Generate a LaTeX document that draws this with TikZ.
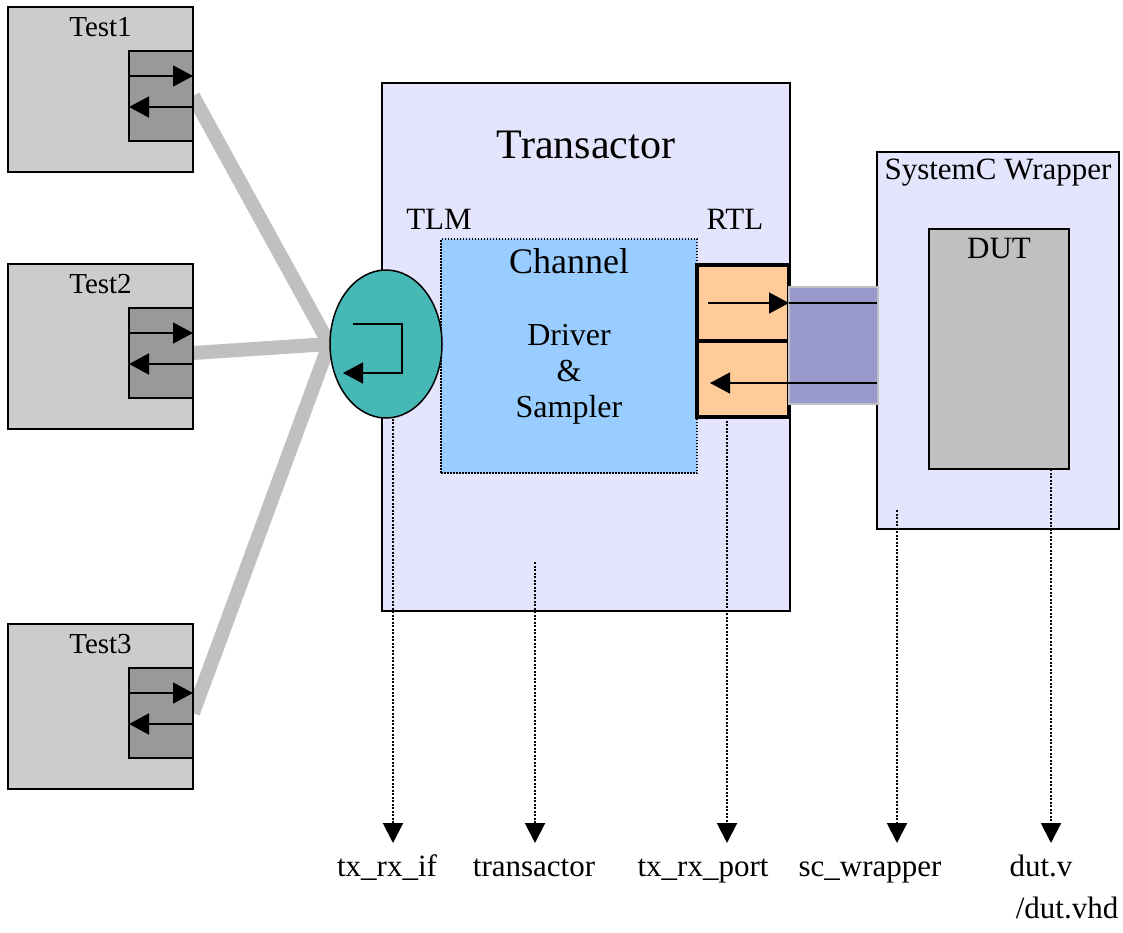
\documentclass[tikz,border=0pt]{standalone}
\usepackage{fontspec}
\setmainfont{Liberation Serif}
\usetikzlibrary{positioning,arrows.meta,shapes.geometric,calc,backgrounds}
\definecolor{colortest}    {RGB}{204,204,204}
\definecolor{colorport}    {RGB}{153,153,153}
\definecolor{colorlink}    {RGB}{ 70,184,181}
\definecolor{colorbox}     {RGB}{228,228,252}
\definecolor{colorchannel} {RGB}{153,204,255}
\definecolor{colorrtl}     {RGB}{255,204,153}
\definecolor{colorbridge}  {RGB}{153,153,204}
\definecolor{colordut}     {RGB}{192,192,192}
\definecolor{colorwire}    {RGB}{192,192,192}

\begin{document}
\begin{tikzpicture}[
    x=1pt, y=-1pt,
    base/.style={draw=black,line width=1.5pt,rectangle,inner sep=0pt,outer sep=0pt,anchor=north west},
    txt/.style={text=black,inner sep=0pt,anchor=base,font={\fontsize{31}{36}\selectfont}},
    testbox/.style={base,fill=colortest,minimum width=185,minimum height=165},
    portbox/.style={base,fill=colorport,minimum width=64,minimum height=90,anchor=north east},
    rtlport/.style={base,fill=colorrtl,line width=3.5pt,minimum width=92,minimum height=76},
    tip/.style={line width=1.5pt,-{Triangle[length=20pt,width=21pt]}},
    wire/.style={colorwire,line width=14pt},
    pointer/.style={line width=2pt,dash pattern=on 2pt off 1.5pt,-{Triangle[length=20pt,width=20pt]}},
]
    \useasboundingbox (0,0) rectangle (1123,932);

    % Tests
    \foreach \i/\y in {1/7,2/264,3/624}{
        \node[testbox] (test\i) at (8,\y) {};
        \node[txt,font={\fontsize{29}{34}\selectfont}] at ([yshift=-29pt]test\i.north) {Test\i};
        \node[portbox] (port\i) at ([yshift=-44pt]test\i.north east) {};
        \draw[tip] ([yshift=-25pt]port\i.north west) -- ([yshift=-25pt]port\i.north east);
        \draw[tip] ([yshift=-56pt]port\i.north east) -- ([yshift=-56pt]port\i.north west);
    }

    % Transactor
    \node[base,fill=colorbox,minimum width=408,minimum height=528] (transactor) at (382,83) {};
    \node[txt,font={\fontsize{42}{48}\selectfont}] at ([yshift=-75pt]transactor.north) {Transactor};
    \node[txt] (tlm) at (439,229) {TLM};
    \node[txt] (rtl) at (735,229) {RTL};

    \node[base,fill=colorchannel,dash pattern=on 1.5pt off 1.5pt,minimum width=256,minimum height=234] (channel) at (441,239) {};
    \node[txt,font={\fontsize{36}{40}\selectfont}] at ([yshift=-34pt]channel.north) {Channel};
    \node[txt,anchor=center,align=center,font={\fontsize{32}{36}\selectfont}] (driver) at (569,374) {Driver\\\&\\Sampler};

    \node[ellipse,draw=black,line width=1.5pt,fill=colorlink,minimum width=112,minimum height=148,inner sep=0pt] (link) at (386,344) {};
    \draw[tip] ([shift={(-33,-20)}]link.center) -- ++(49,0) -- ++(0,49) -- ++(-59,0);

    \begin{scope}[on background layer]
        \foreach \i in {1,2,3}
            \draw[wire] (port\i.east) -- (link.west);
    \end{scope}

    \node[rtlport] (txport) at (697,265) {};
    \node[rtlport] (rxport) at (txport.south west) {};

    % SystemC wrapper
    \node[base,fill=colorbox,minimum width=242,minimum height=377] (wrapper) at (877,152) {};
    \node[txt] at ([yshift=-27pt]wrapper.north) {SystemC Wrapper};
    \node[base,fill=colordut,minimum width=140,minimum height=240] (dut) at (929,229) {};
    \node[txt] at ([yshift=-29pt]dut.north) {DUT};

    \node[base,draw=colorwire,fill=colorbridge,minimum width=89,minimum height=117] (bridge) at (789,287) {};
    \draw[tip] ([xshift=11pt]txport.west) -- (txport.east);
    \draw[line width=1.5pt] (txport.east) -- (txport.east -| wrapper.west);
    \coordinate (rxline) at ([yshift=-4pt]rxport.west);
    \draw[tip] (rxline -| wrapper.west) -- ([xshift=13pt]rxline);

    % Files
    \coordinate (tipline) at (0,843);
    \coordinate (txcore)   at (535,562);
    \coordinate (wrapcore) at (897,510);
    \coordinate (ifstart)   at ([xshift=7pt]link.south);
    \coordinate (portstart) at ([xshift=-16pt]rxport.south);
    \coordinate (dutstart)  at ([xshift=-18pt]dut.south east);

    \node[txt] (ifname)      at (387,876) {tx\_rx\_if};
    \node[txt] (txname)      at (534,876) {transactor};
    \node[txt] (portname)    at (703,876) {tx\_rx\_port};
    \node[txt] (wrapname)    at (870,876) {sc\_wrapper};
    \node[txt] (dutname)     at (1041,876) {dut.v};
    \node[txt] (vhdname)     at (1067,918) {/dut.vhd};

    \draw[pointer] (ifstart)   -- (ifstart |- tipline);
    \draw[pointer] (txcore)    -- (txcore |- tipline);
    \draw[pointer] (portstart) -- (portstart |- tipline);
    \draw[pointer] (wrapcore)  -- (wrapcore |- tipline);
    \draw[pointer] (dutstart)  -- (dutstart |- tipline);

\end{tikzpicture}
\end{document}
